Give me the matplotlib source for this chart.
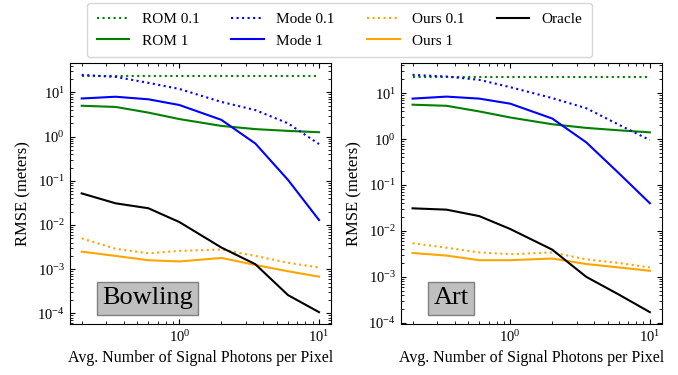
import matplotlib
matplotlib.use("Agg")
import matplotlib.pyplot as plt

plt.rcParams['font.family'] = ['Liberation Serif', 'DejaVu Serif']
plt.rcParams['mathtext.fontset'] = 'stix'
plt.rcParams['font.size'] = 10.5

# photons per pixel (x axis)
photons = [0.2, 0.35, 0.6, 1, 2, 3.5, 6, 10]

# Bowling scene
bow_rom01 = [23, 23, 23, 23, 23, 23, 23, 23]
bow_rom1 = [5.0, 4.7, 3.5, 2.5, 1.75, 1.48, 1.35, 1.26]
bow_mode01 = [25, 22.5, 16.5, 12, 6.1, 4.0, 2.0, 0.68]
bow_mode1 = [7.3, 8.0, 7.0, 5.2, 2.4, 0.7, 0.105, 0.013]
bow_ours01 = [0.005, 0.0029, 0.0023, 0.0026, 0.0028, 0.002, 0.0014, 0.0011]
bow_ours1 = [0.0025, 0.002, 0.0016, 0.0015, 0.0018, 0.00125, 0.0009, 0.00068]
bow_oracle = [0.052, 0.031, 0.024, 0.0117, 0.0031, 0.0013, 0.00026, 0.000107]

# Art scene
art_rom01 = [23, 23, 23, 23, 23, 23, 23, 23]
art_rom1 = [5.6, 5.3, 4.0, 2.95, 2.1, 1.75, 1.55, 1.4]
art_mode01 = [25, 23, 19.5, 13.5, 7.8, 4.7, 2.05, 0.95]
art_mode1 = [7.6, 8.4, 7.6, 5.9, 2.8, 0.85, 0.18, 0.04]
art_ours01 = [0.0054, 0.0043, 0.0034, 0.0031, 0.0034, 0.0024, 0.0020, 0.0016]
art_ours1 = [0.0033, 0.0029, 0.0023, 0.0023, 0.0025, 0.0019, 0.0016, 0.00135]
art_oracle = [0.031, 0.029, 0.021, 0.011, 0.0039, 0.001, 0.00041, 0.00017]

scenes = [
    ("Bowling", bow_rom01, bow_rom1, bow_mode01, bow_mode1, bow_ours01, bow_ours1, bow_oracle),
    ("Art", art_rom01, art_rom1, art_mode01, art_mode1, art_ours01, art_ours1, art_oracle),
]

fig = plt.figure(figsize=(6.78, 3.75), dpi=100)
ax1 = fig.add_axes([0.103, 0.136, 0.385, 0.696])
ax2 = fig.add_axes([0.591, 0.136, 0.385, 0.696])

lw = 1.5
for ax, (name, rom01, rom1, mode01, mode1, ours01, ours1, oracle) in zip([ax1, ax2], scenes):
    ax.loglog(photons, rom01, ':', color='green', lw=lw, label='ROM 0.1')
    ax.loglog(photons, rom1, '-', color='green', lw=lw, label='ROM 1')
    ax.loglog(photons, mode01, ':', color='blue', lw=lw, label='Mode 0.1')
    ax.loglog(photons, mode1, '-', color='blue', lw=lw, label='Mode 1')
    ax.loglog(photons, ours01, ':', color='orange', lw=lw, label='Ours 0.1')
    ax.loglog(photons, ours1, '-', color='orange', lw=lw, label='Ours 1')
    ax.loglog(photons, oracle, '-', color='black', lw=lw, label='Oracle')
    ax.set_xlabel('Avg. Number of Signal Photons per Pixel', fontsize=11.5)
    ax.set_ylabel('RMSE (meters)', fontsize=12)
    ax.tick_params(which='both', direction='in', top=True, right=True)
    ax.text(0.125, 0.075, name, transform=ax.transAxes, fontsize=19,
            bbox=dict(facecolor='#bfbfbf', edgecolor='gray', boxstyle='square,pad=0.2'))

handles, labels = ax1.get_legend_handles_labels()
fig.legend(handles, labels, ncol=4, loc='upper center', bbox_to_anchor=(0.5007, 0.991),
           borderaxespad=0, borderpad=0.6,
           fontsize=11, handlelength=2.15, columnspacing=2.1)

plt.savefig('out.png', dpi=100)
